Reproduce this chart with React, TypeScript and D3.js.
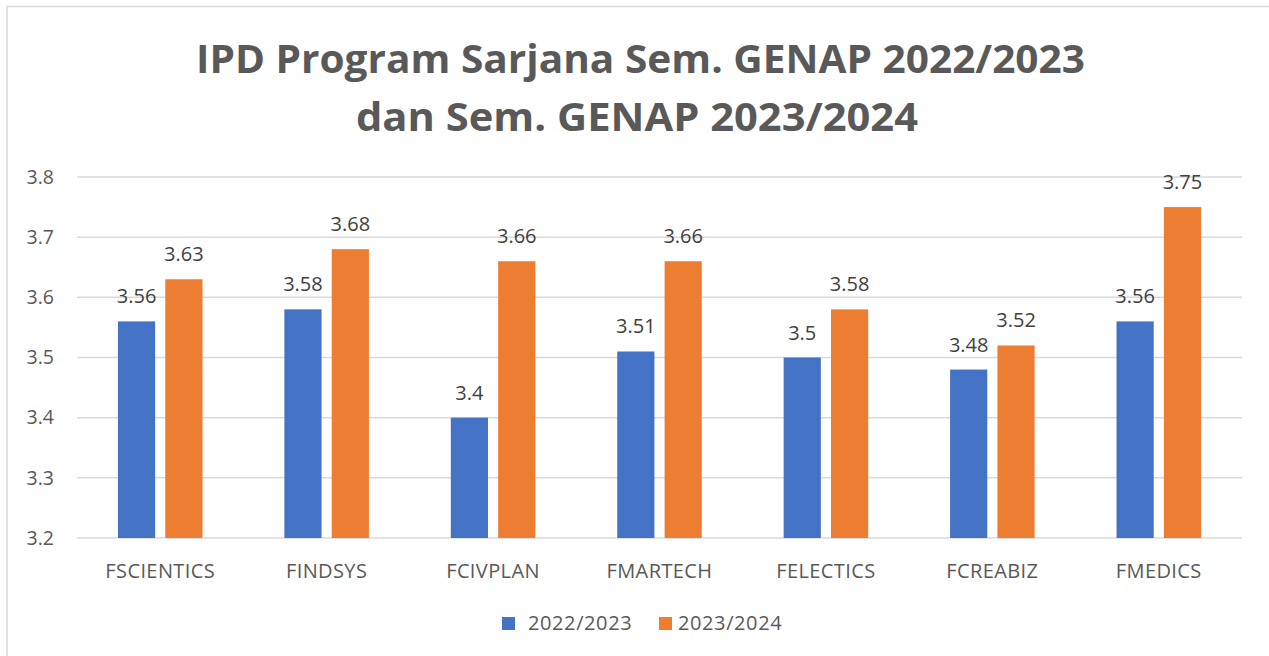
import React from "react";
import * as d3 from "d3";

const categories = ["FSCIENTICS", "FINDSYS", "FCIVPLAN", "FMARTECH", "FELECTICS", "FCREABIZ", "FMEDICS"];
const seriesNames = ["2022/2023", "2023/2024"];
const values2022 = [3.56, 3.58, 3.4, 3.51, 3.5, 3.48, 3.56];
const values2023 = [3.63, 3.68, 3.66, 3.66, 3.58, 3.52, 3.75];
const yTicks = [3.2, 3.3, 3.4, 3.5, 3.6, 3.7, 3.8];
const titleLines = ["IPD Program Sarjana Sem. GENAP 2022/2023", "dan Sem. GENAP 2023/2024"];
const colors = ["#4472C4", "#ED7D31"];

const W = 1269;
const H = 656;
const FONT = "'Open Sans', 'Noto Sans', sans-serif";

export default function App() {
  const x = d3.scaleBand<string>().domain(categories).range([77, 1242]).paddingInner(0).paddingOuter(0);
  const bw = x.bandwidth();
  const outer = bw * 0.246;
  const x1 = d3.scaleBand<string>().domain(seriesNames).range([outer, bw - outer]).paddingInner(0.215).paddingOuter(0);
  const y = d3.scaleLinear().domain([3.2, 3.8]).range([538, 177]);
  const series = [values2022, values2023];

  return (
    <svg width={W} height={H} style={{ position: "absolute", left: 0, top: 0, background: "#fff" }}>
      <rect x={0} y={0} width={W} height={H} fill="#fff" />
      <rect x={7} y={6.5} width={W + 20} height={H + 20} fill="none" stroke="#D9D9D9" strokeWidth={1.5} />
      {/* title */}
      <text x={640.5} y={73} textAnchor="middle" fontFamily={FONT} fontWeight={700} fontSize={40} fill="#595959" textLength={889} lengthAdjust="spacingAndGlyphs">
        {titleLines[0]}
      </text>
      <text x={637} y={131} textAnchor="middle" fontFamily={FONT} fontWeight={700} fontSize={40} fill="#595959" textLength={562} lengthAdjust="spacingAndGlyphs">
        {titleLines[1]}
      </text>
      {/* gridlines */}
      {yTicks.map((t) => (
        <g key={t}>
          <line x1={77} x2={1242} y1={y(t)} y2={y(t)} stroke="#D9D9D9" strokeWidth={1.5} />
          <text x={54} y={y(t)} dy="0.35em" textAnchor="end" fontFamily={FONT} fontSize={19.5} fill="#595959">
            {d3.format(".1f")(t)}
          </text>
        </g>
      ))}
      {/* bars */}
      {categories.map((c, i) => (
        <g key={c} transform={`translate(${x(c)},0)`}>
          {seriesNames.map((s, j) => {
            const v = series[j][i];
            const bx = x1(s)!;
            return (
              <g key={s}>
                <rect x={bx} y={y(v)} width={x1.bandwidth()} height={y(3.2) - y(v)} fill={colors[j]} />
                <text x={bx + x1.bandwidth() / 2} y={y(v) - 18} textAnchor="middle" fontFamily={FONT} fontSize={20} fill="#404040">
                  {String(v)}
                </text>
              </g>
            );
          })}
          <text x={bw / 2} y={578} textAnchor="middle" fontFamily={FONT} fontSize={20} letterSpacing={0.4} fill="#595959">
            {c}
          </text>
        </g>
      ))}
      {/* legend */}
      {seriesNames.map((s, j) => {
        const lx = j === 0 ? 502 : 659;
        return (
          <g key={s}>
            <rect x={lx} y={617} width={13} height={13} fill={colors[j]} />
            <text x={lx + (j === 0 ? 26 : 19)} y={630} fontFamily={FONT} fontSize={20} letterSpacing={0.6} fill="#595959">
              {s}
            </text>
          </g>
        );
      })}
    </svg>
  );
}
